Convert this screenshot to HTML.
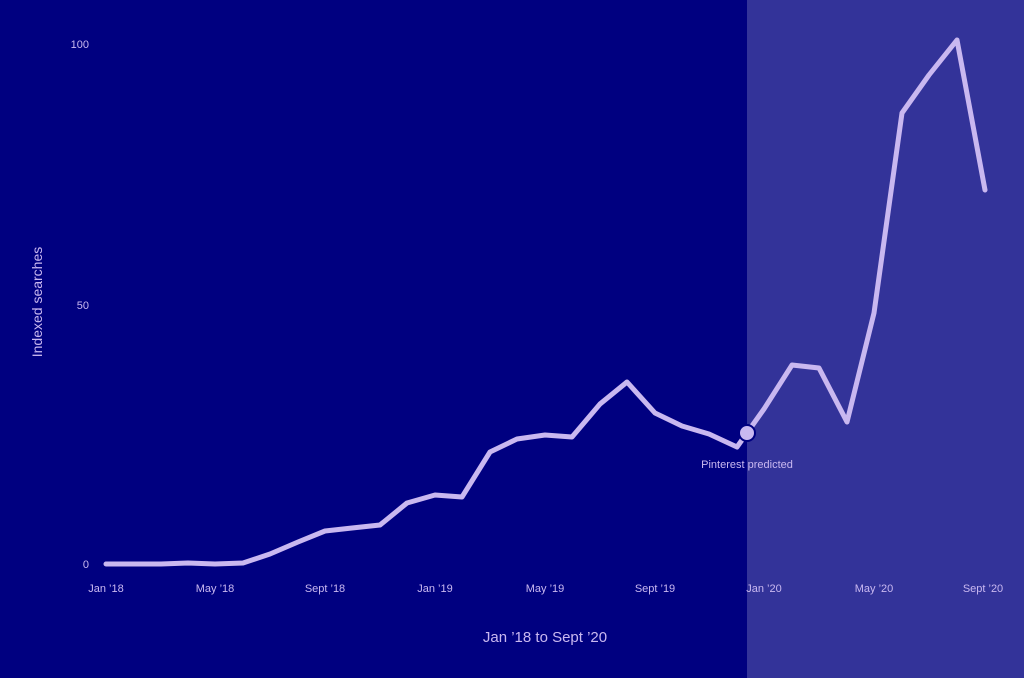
<!DOCTYPE html>
<html><head><meta charset="utf-8"><style>
html,body{margin:0;padding:0;background:#000080;}
svg{display:block;}
text{font-family:"Liberation Sans",sans-serif;fill:#c9b8f0;}
</style></head><body>
<svg width="1024" height="678" viewBox="0 0 1024 678">
<rect x="0" y="0" width="1024" height="678" fill="#000080"/>
<rect x="747" y="0" width="277" height="678" fill="#333399"/>
<text x="89" y="48" font-size="11" text-anchor="end">100</text>
<text x="89" y="309" font-size="11" text-anchor="end">50</text>
<text x="89" y="568" font-size="11" text-anchor="end">0</text>
<text transform="translate(42,302) rotate(-90)" font-size="14" text-anchor="middle">Indexed searches</text>
<g font-size="11" text-anchor="middle">
<text x="106" y="592">Jan ’18</text>
<text x="215" y="592">May ’18</text>
<text x="325" y="592">Sept ’18</text>
<text x="435" y="592">Jan ’19</text>
<text x="545" y="592">May ’19</text>
<text x="655" y="592">Sept ’19</text>
<text x="764" y="592">Jan ’20</text>
<text x="874" y="592">May ’20</text>
<text x="983" y="592">Sept ’20</text>
</g>
<text x="545" y="642" font-size="15" text-anchor="middle">Jan ’18 to Sept ’20</text>
<text x="747" y="468" font-size="11" text-anchor="middle">Pinterest predicted</text>
<polyline fill="none" stroke="#c9b8f0" stroke-width="5" stroke-linejoin="round" stroke-linecap="round"
points="106,564 133,564 161,564 188,563 215,564 243,563 270,554 298,542 325,531 352,528 380,525 407,503 435,495 462,497 490,452 517,439 545,435 572,437 600,404 627,382 655,413 682,426 709,434 737,447 764,409 792,365 819,368 847,422 874,313 902,113 929,75 957,40 985,190"/>
<circle cx="747" cy="433" r="8" fill="#c9b8f0" stroke="#000080" stroke-width="2"/>
</svg>
</body></html>
